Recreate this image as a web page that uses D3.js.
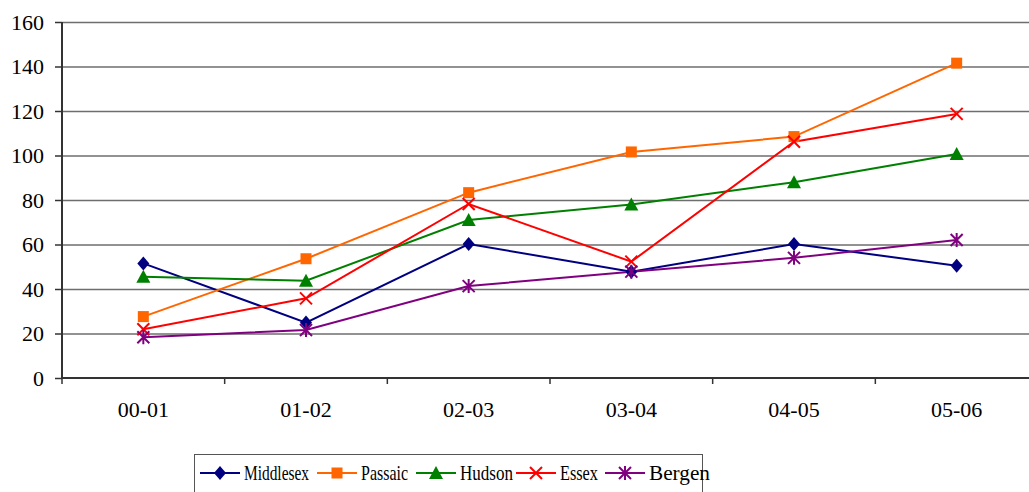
<!DOCTYPE html>
<html><head><meta charset="utf-8">
<script src="https://cdn.jsdelivr.net/npm/d3@7"></script>
<style>body{margin:0;background:#fff}svg{display:block}svg text{font-family:"Liberation Serif",serif !important}</style>
</head><body>
<svg id="c" width="1029" height="492"></svg>
<script>
const categories = ["00-01","01-02","02-03","03-04","04-05","05-06"];
const middlesex = [51.5, 24.9, 60.2, 47.8, 60.2, 50.5];
const passaic   = [27.6, 53.6, 83.3, 101.6, 108.5, 141.5];
const hudson    = [45.5, 43.7, 71.0, 78.0, 88.0, 100.7];
const essex     = [21.9, 35.8, 78.2, 52.3, 106.2, 118.7];
const bergen    = [18.3, 21.6, 41.3, 47.8, 54.0, 62.0];
const yTicks = [0,20,40,60,80,100,120,140,160];
const seriesNames = ["Middlesex","Passaic","Hudson","Essex","Bergen"];

(function(){
const series = [
  {name:seriesNames[0], values:middlesex, color:"#000080", marker:"diamond"},
  {name:seriesNames[1], values:passaic, color:"#FF6600", marker:"square"},
  {name:seriesNames[2], values:hudson, color:"#008000", marker:"triangle"},
  {name:seriesNames[3], values:essex, color:"#FF0000", marker:"x"},
  {name:seriesNames[4], values:bergen, color:"#800080", marker:"star"}
];
const FF = "Liberation Serif";

const svg = d3.select("#c");
const pL = 62, pR = 1038, pT = 22, pB = 378;
const x = d3.scaleBand().domain(categories).range([pL, pR]);
const xc = d => x(d) + x.bandwidth()/2;
const y = d3.scaleLinear().domain([0,160]).range([pB, pT]);

svg.append("g").selectAll("line").data(yTicks.filter(t=>t>0)).join("line")
  .attr("x1", pL).attr("x2", 1029).attr("y1", d=>y(d)+0.5).attr("y2", d=>y(d)+0.5)
  .attr("stroke", "#6e6e6e").attr("stroke-width", 1.5);

const ya = svg.append("g").attr("transform", `translate(${pL},0)`)
  .call(d3.axisLeft(y).tickValues(yTicks).tickSize(7).tickPadding(11));
ya.attr("font-family", FF);
ya.select(".domain").attr("stroke","#333").attr("stroke-width",2).attr("d", `M0,${pT}V${pB}`);
ya.selectAll(".tick line").attr("stroke","#333").attr("stroke-width",1.5);
ya.selectAll(".tick text").style("font-size", "22px").style("font-family", FF).attr("fill","#000");

const xa = svg.append("g").attr("transform", `translate(0,${pB})`)
  .call(d3.axisBottom(x).tickSize(0).tickPadding(23));
xa.attr("font-family", FF);
xa.select(".domain").attr("stroke","#333").attr("stroke-width",2).attr("d", `M${pL},0H1029`);
xa.selectAll(".tick text").style("font-size", "22px").style("font-family", FF).attr("fill","#000");
svg.append("g").selectAll("line").data(categories).join("line")
  .attr("x1", d=>x(d)).attr("x2", d=>x(d)).attr("y1", pB).attr("y2", pB+6)
  .attr("stroke","#333").attr("stroke-width",1.5);

function drawMarker(g, type, color) {
  if (type === "diamond") g.append("path").attr("d","M0,-7L6,0L0,7L-6,0Z").attr("fill",color);
  else if (type === "square") g.append("rect").attr("x",-5.5).attr("y",-5.5).attr("width",11).attr("height",11).attr("fill",color);
  else if (type === "triangle") g.append("path").attr("d","M0,-7L7,6L-7,6Z").attr("fill",color);
  else if (type === "x") g.append("path").attr("d","M-6,-6L6,6M-6,6L6,-6").attr("stroke",color).attr("stroke-width",2).attr("fill","none");
  else if (type === "star") g.append("path").attr("d","M-6,-6L6,6M-6,6L6,-6M0,-7V7").attr("stroke",color).attr("stroke-width",2).attr("fill","none");
}

const line = d3.line().x((d,i)=>xc(categories[i])).y(d=>y(d));
series.forEach(s => {
  svg.append("path").datum(s.values).attr("d", line).attr("fill","none").attr("stroke", s.color).attr("stroke-width", 2);
});
series.forEach(s => {
  s.values.forEach((v,i) => {
    const g = svg.append("g").attr("transform", `translate(${xc(categories[i])},${y(v)})`);
    drawMarker(g, s.marker, s.color);
  });
});

const lg = svg.append("g");
lg.append("rect").attr("x",194.5).attr("y",454.5).attr("width",508).attr("height",40).attr("fill","#fff").attr("stroke","#555").attr("stroke-width",1);
const lx = [200, 317, 416, 516, 605];
const tw = [65, 47, 53, 38, 61];
series.forEach((s,i) => {
  const g = lg.append("g").attr("transform", `translate(${lx[i]},473)`);
  g.append("line").attr("x1",0).attr("x2",40).attr("y1",0).attr("y2",0).attr("stroke",s.color).attr("stroke-width",2);
  const m = g.append("g").attr("transform","translate(20,0)");
  drawMarker(m, s.marker, s.color);
  g.append("text").attr("x",44).attr("y",6.5).style("font-size","21px").style("font-family",FF)
    .attr("textLength",tw[i]).attr("lengthAdjust","spacingAndGlyphs").text(s.name);
});
})();
</script>
</body></html>
